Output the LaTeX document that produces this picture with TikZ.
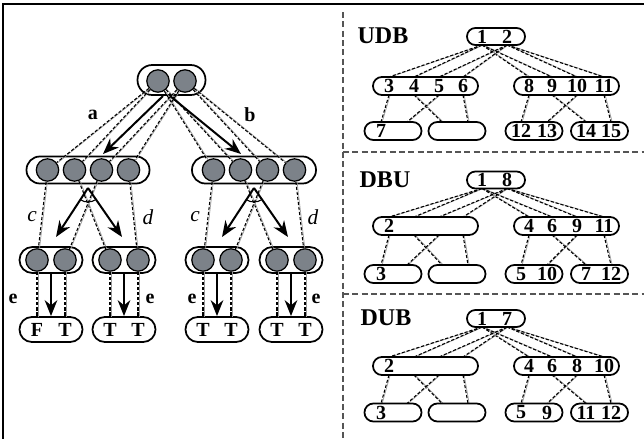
\documentclass[tikz,border=0pt]{standalone}
\usepackage{fontspec}
\setmainfont{Liberation Serif}
\usetikzlibrary{arrows.meta}
\definecolor{ballgray}{RGB}{124,130,137}
\definecolor{rulegray}{RGB}{85,85,85}

% a connector: a thin gray line with a black dashed line beside it
\newcommand\lnk[2]{\draw[lnkgray] (#1) -- (#2); \draw[lnkdash] (#1) -- (#2);}

% one of the small number trees on the right
% #1 prefix, #2 top row y, #3 middle row y, #4 bottom row y
\newcommand\btree[4]{%
  \coordinate (#1t1) at (482,#2+8.5);  \coordinate (#1t2) at (507,#2+8.5);
  \coordinate (#1a1) at (389,#3-9); \coordinate (#1a2) at (414,#3-9);
  \coordinate (#1a3) at (439,#3-9); \coordinate (#1a4) at (463,#3-9);
  \coordinate (#1b1) at (529,#3-9); \coordinate (#1b2) at (552,#3-9);
  \coordinate (#1b3) at (577,#3-9); \coordinate (#1b4) at (604,#3-9);
  \coordinate (#1c1) at (389,#3+9); \coordinate (#1c2) at (414,#3+9);
  \coordinate (#1c3) at (439,#3+9); \coordinate (#1c4) at (463,#3+9);
  \coordinate (#1d1) at (529,#3+9); \coordinate (#1d2) at (552,#3+9);
  \coordinate (#1d3) at (577,#3+9); \coordinate (#1d4) at (604,#3+9);
  \coordinate (#1e1) at (381,#4-9); \coordinate (#1e2) at (407,#4-9);
  \coordinate (#1f1) at (442,#4-9); \coordinate (#1f2) at (468,#4-9);
  \coordinate (#1g1) at (521,#4-9); \coordinate (#1g2) at (547,#4-9);
  \coordinate (#1h1) at (586,#4-9); \coordinate (#1h2) at (611,#4-9);
  \lnk{#1t1}{#1a1}\lnk{#1t1}{#1a2}\lnk{#1t1}{#1b1}\lnk{#1t1}{#1b2}
  \lnk{#1t2}{#1a3}\lnk{#1t2}{#1a4}\lnk{#1t2}{#1b3}\lnk{#1t2}{#1b4}
  \lnk{#1c1}{#1e1}\lnk{#1c2}{#1f1}\lnk{#1c3}{#1e2}\lnk{#1c4}{#1f2}
  \lnk{#1d1}{#1g1}\lnk{#1d2}{#1h1}\lnk{#1d3}{#1g2}\lnk{#1d4}{#1h2}
  \node[pill={58}{17}] (#1top) at (496,#2) {};
  \node[pill={105}{18}] (#1ml) at (425.5,#3) {};
  \node[pill={105}{18}] (#1mr) at (566.5,#3) {};
  \node[pill={57}{18}] (#1l1) at (393,#4) {};
  \node[pill={57}{18}] (#1l2) at (457,#4) {};
  \node[pill={57}{18}] (#1l3) at (534,#4) {};
  \node[pill={57}{18}] (#1l4) at (599.5,#4) {};
}

\begin{document}
\begin{tikzpicture}[x=0.75pt,y=-0.75pt,
  pill/.style n args={2}{draw, line width=1.3pt, minimum width=#1*0.75pt,
    minimum height=#2*0.75pt, rounded corners=#2*0.37pt, inner sep=0pt},
  ball/.style={circle, draw, line width=0.95pt, fill=ballgray,
    minimum size=16.8pt, inner sep=0pt},
  lnkgray/.style={draw=black!40, line width=0.5pt, transform canvas={xshift=0.9pt}},
  lnkdash/.style={draw=black, line width=0.8pt, dash pattern=on 2.4pt off 1.4pt},
  bigarrow/.style={line width=1.5pt, -{Stealth[length=12pt,width=9.5pt]}},
  lab/.style={font=\bfseries\fontsize{15}{15}\selectfont, inner sep=0pt},
  ilab/.style={font=\itshape\fontsize{16}{16}\selectfont, inner sep=0pt},
  leaf/.style={font=\bfseries\fontsize{15}{15}\selectfont, inner sep=0pt},
  num/.style={font=\bfseries\fontsize{15}{15}\selectfont, inner sep=0pt},
  title/.style={font=\bfseries\fontsize{18}{18}\selectfont, inner sep=0pt},
  divider/.style={draw=rulegray, line width=0.8pt, dash pattern=on 4.5pt off 2.5pt},
]
\useasboundingbox (0,0) rectangle (644,439);

% outer frame and panel dividers
\coordinate (fTL) at (3,4); \coordinate (fTR) at (644,4); \coordinate (fBL) at (3,439);
\draw[line width=1.3pt] (fBL) -- (fTL) -- (fTR);
\coordinate (dvT) at (343,12); \coordinate (dvB) at (343,439);
\coordinate (h1L) at (343,152); \coordinate (h1R) at (644,152);
\coordinate (h2L) at (343,294); \coordinate (h2R) at (644,294);
\draw[divider] (dvT) -- (dvB);
\draw[divider] (h1L) -- (h1R);
\draw[divider] (h2L) -- (h2R);

% ---------- left tree ----------
\node[pill={68}{30}] (root) at (171.5,80) {};
\node[ball] (r1) at (158,81) {};
\node[ball] (r2) at (185,81) {};

\node[pill={123}{27}] (midL) at (88,170) {};
\node[ball] (m1) at (47.5,170) {};
\node[ball] (m2) at (74.5,170) {};
\node[ball] (m3) at (101.5,170) {};
\node[ball] (m4) at (128.5,170) {};

\node[pill={124}{27}] (midR) at (254,170) {};
\node[ball] (n1) at (213.5,170) {};
\node[ball] (n2) at (240.5,170) {};
\node[ball] (n3) at (267.5,170) {};
\node[ball] (n4) at (294.5,170) {};

\node[pill={63}{26}] (b1) at (51,260) {};
\node[pill={63}{26}] (b2) at (124,260) {};
\node[pill={63}{26}] (b3) at (217,260) {};
\node[pill={63}{26}] (b4) at (291,260) {};
\node[ball] (k1a) at (37,260) {};  \node[ball] (k1b) at (65,260) {};
\node[ball] (k2a) at (110,260) {}; \node[ball] (k2b) at (138,260) {};
\node[ball] (k3a) at (203,260) {}; \node[ball] (k3b) at (231,260) {};
\node[ball] (k4a) at (277,260) {}; \node[ball] (k4b) at (305,260) {};

\node[pill={63}{25}] (v1) at (51,329.5) {};
\node[pill={63}{25}] (v2) at (124,329.5) {};
\node[pill={63}{25}] (v3) at (217,329.5) {};
\node[pill={63}{25}] (v4) at (291,329.5) {};
\node[leaf] (v1a) at (37,330) {F};  \node[leaf] (v1b) at (65,330) {T};
\node[leaf] (v2a) at (110,330) {T}; \node[leaf] (v2b) at (138,330) {T};
\node[leaf] (v3a) at (203,330) {T}; \node[leaf] (v3b) at (231,330) {T};
\node[leaf] (v4a) at (277,330) {T}; \node[leaf] (v4b) at (305,330) {T};

% connectors between the balls
\lnk{r1}{m1}\lnk{r1}{m2}\lnk{r1}{n1}\lnk{r1}{n2}
\lnk{r2}{m3}\lnk{r2}{m4}\lnk{r2}{n3}\lnk{r2}{n4}
\lnk{m1}{k1a}\lnk{m2}{k2a}\lnk{m3}{k1b}\lnk{m4}{k2b}
\lnk{n1}{k3a}\lnk{n2}{k4a}\lnk{n3}{k3b}\lnk{n4}{k4b}
\coordinate (t1a) at (37,317);  \coordinate (t1b) at (65,317);
\coordinate (t2a) at (110,317); \coordinate (t2b) at (138,317);
\coordinate (t3a) at (203,317); \coordinate (t3b) at (231,317);
\coordinate (t4a) at (277,317); \coordinate (t4b) at (305,317);
\lnk{k1a}{t1a}\lnk{k1b}{t1b}\lnk{k2a}{t2a}\lnk{k2b}{t2b}
\lnk{k3a}{t3a}\lnk{k3b}{t3b}\lnk{k4a}{t4a}\lnk{k4b}{t4b}

% thick arrows
\coordinate (aS) at (163,96); \coordinate (aE) at (103,154);
\coordinate (bS) at (170,96); \coordinate (bE) at (241,154);
\draw[bigarrow] (aS) -- (aE);
\draw[bigarrow] (bS) -- (bE);
\coordinate (apL) at (88,188); \coordinate (apL1) at (56,237); \coordinate (apL2) at (122,237);
\coordinate (apR) at (254,188); \coordinate (apR1) at (222,237); \coordinate (apR2) at (288,237);
\draw[bigarrow] (apL) -- (apL1);
\draw[bigarrow] (apL) -- (apL2);
\draw[bigarrow] (apR) -- (apR1);
\draw[bigarrow] (apR) -- (apR2);
\draw[line width=0.8pt] ([shift={(123:14)}]apL) arc[start angle=123, end angle=56, radius=14];
\draw[line width=0.8pt] ([shift={(124:14)}]apR) arc[start angle=124, end angle=56, radius=14];
\draw[bigarrow] (b1.south) -- (v1.north);
\draw[bigarrow] (b2.south) -- (v2.north);
\draw[bigarrow] (b3.south) -- (v3.north);
\draw[bigarrow] (b4.south) -- (v4.north);

% labels
\node[lab] (la) at (93,115) {a};
\node[lab] (lb) at (250,115) {b};
\node[ilab] (lc1) at (32,217) {c};
\node[ilab] (ld1) at (148,217) {d};
\node[ilab] (lc2) at (195,217) {c};
\node[ilab] (ld2) at (313,217) {d};
\node[lab] (le1) at (13,299) {e};
\node[lab] (le2) at (150,299) {e};
\node[lab] (le3) at (192,299) {e};
\node[lab] (le4) at (316,299) {e};

% ---------- right trees ----------
\btree{u}{36.5}{86}{131}
\btree{p}{180}{226}{274}
\btree{q}{318.5}{366}{412.5}

\node[title] (uT) at (383,36) {UDB};
\node[num] (u01) at (482,36.5) {1}; \node[num] (u02) at (507,36.5) {2};
\node[num] (u03) at (389,86) {3}; \node[num] (u04) at (414,86) {4};
\node[num] (u05) at (439,86) {5}; \node[num] (u06) at (463,86) {6};
\node[num] (u08) at (529,86) {8}; \node[num] (u09) at (552,86) {9};
\node[num] (u10) at (577,86) {10}; \node[num] (u11) at (604,86) {11};
\node[num] (u07) at (381,131) {7};
\node[num] (u12) at (521,131) {12}; \node[num] (u13) at (547,131) {13};
\node[num] (u14) at (586,131) {14}; \node[num] (u15) at (611,131) {15};

\node[title] (pT) at (385,180) {DBU};
\node[num] (p01) at (482,180) {1}; \node[num] (p08) at (507,180) {8};
\node[num] (p02) at (389,226) {2};
\node[num] (p04) at (529,226) {4}; \node[num] (p06) at (552,226) {6};
\node[num] (p09) at (577,226) {9}; \node[num] (p11) at (604,226) {11};
\node[num] (p03) at (381,274) {3};
\node[num] (p05) at (521,274) {5}; \node[num] (p10) at (547,274) {10};
\node[num] (p07) at (586,274) {7}; \node[num] (p12) at (611,274) {12};

\node[title] (qT) at (386,318) {DUB};
\node[num] (q01) at (482,318.5) {1}; \node[num] (q07) at (507,318.5) {7};
\node[num] (q02) at (389,366) {2};
\node[num] (q04) at (529,366) {4}; \node[num] (q06) at (552,366) {6};
\node[num] (q08) at (577,366) {8}; \node[num] (q10) at (604,366) {10};
\node[num] (q03) at (381,412.5) {3};
\node[num] (q05) at (521,412.5) {5}; \node[num] (q09) at (547,412.5) {9};
\node[num] (q11) at (586,412.5) {11}; \node[num] (q12) at (611,412.5) {12};
\end{tikzpicture}
\end{document}
